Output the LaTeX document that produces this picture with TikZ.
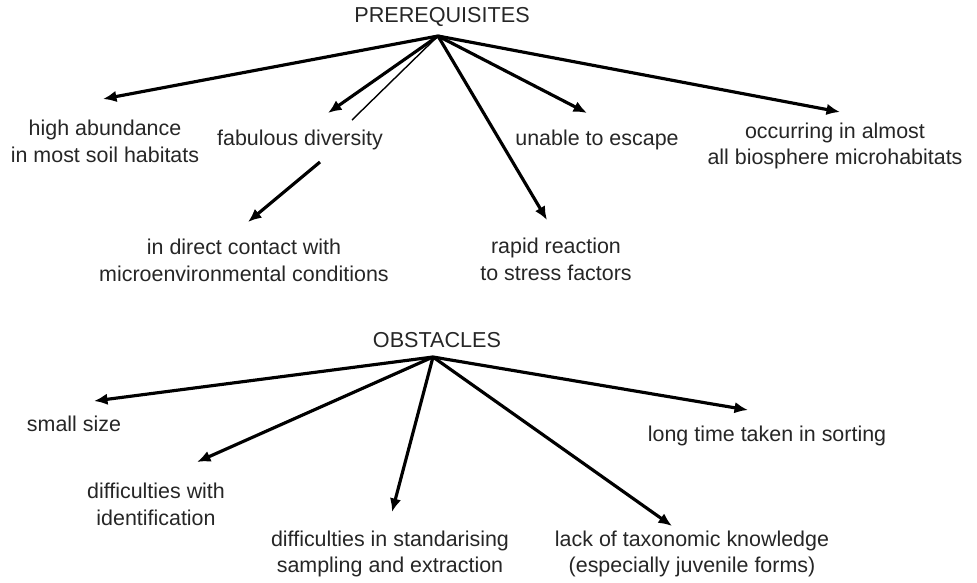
\documentclass[tikz,border=0pt]{standalone}
\usepackage{fontspec}
\setmainfont{Liberation Sans}
\usetikzlibrary{arrows.meta,positioning}

\tikzset{
  label/.style={align=center, inner sep=0pt, font=\fontsize{12.2}{15.3}\selectfont, text=black!85},
  head/.style={label, font=\fontsize{12.3}{14}\selectfont},
  arr/.style={-{Latex[length=2.7mm,width=2.3mm]}, line width=1.8pt},
  thinline/.style={line width=0.8pt}
}

\begin{document}
\begin{tikzpicture}[x=0.02cm, y=-0.02cm]
\useasboundingbox (0,0) rectangle (977,582);

% prerequisites
\node[head] (pre) at (442,17) {PREREQUISITES};
\coordinate (pa) at (438,36);

\node[label] (hab) at (105,141) {high abundance\\in most soil habitats};
\node[label] (fab) at (300,140) {fabulous diversity};
\node[label] (esc) at (597,140) {unable to escape};
\node[label] (occ) at (835,146) {occurring in almost\\all biosphere microhabitats};
\node[label] (dir) at (244,260) {in direct contact with\\microenvironmental conditions};
\node[label] (rap) at (556,259) {rapid reaction\\to stress factors};

\coordinate (hab-in) at (103,99);
\coordinate (fab-in) at (328,113);
\coordinate (fab-tl) at (352,120);
\coordinate (esc-in) at (587,113);
\coordinate (occ-in) at (840,112);
\coordinate (rap-in) at (547,220);
\coordinate (fab-out) at (320,162);
\coordinate (dir-in) at (248,222);

\draw[arr] (pa) -- (hab-in);
\draw[arr] (pa) -- (fab-in);
\draw[thinline] (pa) -- (fab-tl);
\draw[arr] (pa) -- (rap-in);
\draw[arr] (pa) -- (esc-in);
\draw[arr] (pa) -- (occ-in);
\draw[arr] (fab-out) -- (dir-in);

% obstacles
\node[head] (obs) at (437,340) {OBSTACLES};
\coordinate (oa) at (433,357);

\node[label] (small) at (74,424) {small size};
\node[label] (ident) at (156,504) {difficulties with\\identification};
\node[label] (std) at (390,554) {difficulties in standarising\\sampling and extraction};
\node[label] (tax) at (692,554) {lack of taxonomic knowledge\\(especially juvenile forms)};
\node[label] (sort) at (767,436) {long time taken in sorting};

\coordinate (small-in) at (94,401);
\coordinate (ident-in) at (197,462);
\coordinate (std-in) at (392,512);
\coordinate (tax-in) at (672,526);
\coordinate (sort-in) at (748,410);

\draw[arr] (oa) -- (small-in);
\draw[arr] (oa) -- (ident-in);
\draw[arr] (oa) -- (std-in);
\draw[arr] (oa) -- (tax-in);
\draw[arr] (oa) -- (sort-in);

\end{tikzpicture}
\end{document}
